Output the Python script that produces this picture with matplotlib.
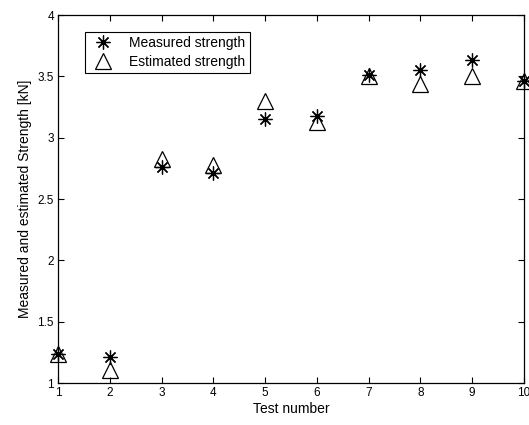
import matplotlib
matplotlib.use("Agg")
import matplotlib.pyplot as plt

plt.rcParams['font.family'] = ['Liberation Sans', 'DejaVu Sans']

test_number = [1, 2, 3, 4, 5, 6, 7, 8, 9, 10]
measured = [1.24, 1.21, 2.76, 2.71, 3.15, 3.18, 3.51, 3.55, 3.63, 3.46]
estimated = [1.24, 1.11, 2.83, 2.78, 3.30, 3.13, 3.50, 3.44, 3.50, 3.46]
xticks = [1, 2, 3, 4, 5, 6, 7, 8, 9, 10]
yticks = [1, 1.5, 2, 2.5, 3, 3.5, 4]
ytick_labels = ['1', '1.5', '2', '2.5', '3', '3.5', '4']

fig = plt.figure(figsize=(5.29, 4.25), dpi=100)
ax = fig.add_axes([58/529, 1-383/425, (524-58)/529, (383-15)/425])

ax.plot(test_number, measured, linestyle='none', marker=(8, 2, 0), markersize=10,
        markeredgecolor='black', markeredgewidth=0.9, color='black',
        label='Measured strength', clip_on=False)
ax.plot(test_number, estimated, linestyle='none', marker='^', markersize=11,
        markerfacecolor='none', markeredgecolor='black', markeredgewidth=0.9,
        label='Estimated strength', clip_on=False)

ax.set_xlim(1, 10)
ax.set_ylim(1, 4)
ax.set_xticks(xticks)
ax.set_xticklabels([str(t) for t in xticks])
ax.set_yticks(yticks)
ax.set_yticklabels(ytick_labels)
ax.tick_params(direction='in', top=True, right=True, length=4, width=0.8,
               labelsize=8.5, pad=3)
for s in ax.spines.values():
    s.set_linewidth(0.9)

ax.set_xlabel('Test number', fontsize=10, labelpad=2)
ax.set_ylabel('Measured and estimated Strength [kN]', fontsize=10, labelpad=4)

leg = ax.legend(loc='upper left', bbox_to_anchor=(27/466, 1-17/368), fontsize=10,
                frameon=True, fancybox=False, edgecolor='black', framealpha=1,
                borderpad=0.3, handletextpad=0.9, labelspacing=0.35,
                handlelength=2.0, borderaxespad=0)
leg.get_frame().set_linewidth(0.8)

fig.savefig('out.png', dpi=100)
